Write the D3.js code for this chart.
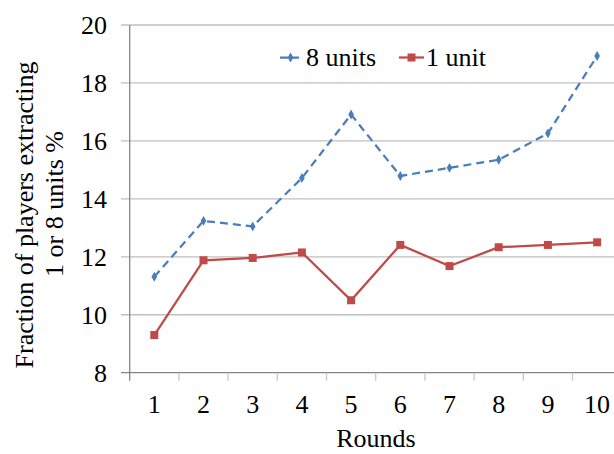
<!DOCTYPE html>
<html>
<head>
<meta charset="utf-8">
<script src="https://cdnjs.cloudflare.com/ajax/libs/d3/7.8.5/d3.min.js"></script>
</head>
<body style="margin:0">
<svg class="svg" width="614" height="454"></svg>
<script>
let rounds = [1, 2, 3, 4, 5, 6, 7, 8, 9, 10];
let eightUnits = [11.31, 13.24, 13.05, 14.72, 16.91, 14.79, 15.07, 15.35, 16.26, 18.93];
let oneUnit = [9.30, 11.88, 11.96, 12.15, 10.50, 12.41, 11.68, 12.33, 12.41, 12.50];
let yTicks = [8, 10, 12, 14, 16, 18, 20];
let seriesNames = ['8 units', '1 unit'];

let blue = '#4a7ebb';
let red = '#be4b48';
let fontSize = 26;
let fontName = 'Times New Roman';

let svg = d3.select('.svg')
    .style('font-family', '"' + fontName + '", serif');

let x = d3.scaleBand()
    .domain(rounds)
    .range([129.7, 621.7]);

let y = d3.scaleLinear()
    .domain([8, 20])
    .range([372.7, 25]);

function addText(sel) {
    return sel.append('text')
        .style('font-family', function () { return '"' + fontName + '"'; })
        .style('font-size', fontSize + 'px');
}

// gridlines
svg.append('g')
    .selectAll('line')
    .data(yTicks)
    .enter()
    .append('line')
    .attr('x1', 121)
    .attr('x2', 614)
    .attr('y1', function (d) { return y(d); })
    .attr('y2', function (d) { return y(d); })
    .style('stroke', function (d) { return d === 8 ? '#868686' : '#c0c0c0'; })
    .style('stroke-width', 1.3);

// y axis line
svg.append('line')
    .attr('x1', 129.7).attr('x2', 129.7)
    .attr('y1', y(20)).attr('y2', y(8))
    .style('stroke', '#868686')
    .style('stroke-width', 1.3);

// x ticks
let xTickPos = rounds.map(function (d) { return x(d); });
xTickPos.push(x(10) + x.bandwidth());
svg.append('g')
    .selectAll('line')
    .data(xTickPos)
    .enter()
    .append('line')
    .attr('x1', function (d) { return d; })
    .attr('x2', function (d) { return d; })
    .attr('y1', y(8))
    .attr('y2', y(8) + 8)
    .style('stroke', function (d, i) { return i === 0 ? '#868686' : '#c8c8c8'; })
    .style('stroke-width', 1.3);

// y tick labels
yTicks.forEach(function (d) {
    addText(svg)
        .attr('x', 107)
        .attr('y', y(d) + 9)
        .attr('text-anchor', 'end')
        .text(d);
});

// x tick labels
rounds.forEach(function (d) {
    addText(svg)
        .attr('x', x(d) + x.bandwidth() / 2)
        .attr('y', 413)
        .attr('text-anchor', 'middle')
        .text(d);
});

// axis titles
addText(svg)
    .attr('x', 376)
    .attr('y', 447)
    .attr('text-anchor', 'middle')
    .text('Rounds');

addText(svg)
    .attr('transform', 'translate(33,215) rotate(-90)')
    .attr('text-anchor', 'middle')
    .text('Fraction of players extracting');
addText(svg)
    .attr('transform', 'translate(63,204) rotate(-90)')
    .attr('text-anchor', 'middle')
    .text('1 or 8 units %');

let cx = function (d, i) { return x(rounds[i]) + x.bandwidth() / 2; };

let line = d3.line()
    .x(cx)
    .y(function (d) { return y(d); });

// 8 units series
svg.append('path')
    .datum(eightUnits)
    .attr('d', line)
    .attr('fill', 'none')
    .style('stroke', blue)
    .style('stroke-width', 2.25)
    .style('stroke-dasharray', '8 5');

svg.append('g')
    .selectAll('path')
    .data(eightUnits)
    .enter()
    .append('path')
    .attr('d', d3.symbol().type(d3.symbolDiamond).size(28))
    .attr('transform', function (d, i) { return 'translate(' + cx(d, i) + ',' + y(d) + ')'; })
    .attr('fill', blue);

// 1 unit series
svg.append('path')
    .datum(oneUnit)
    .attr('d', line)
    .attr('fill', 'none')
    .style('stroke', red)
    .style('stroke-width', 2.25);

svg.append('g')
    .selectAll('rect')
    .data(oneUnit)
    .enter()
    .append('rect')
    .attr('x', function (d, i) { return cx(d, i) - 4; })
    .attr('y', function (d) { return y(d) - 4; })
    .attr('width', 8)
    .attr('height', 8)
    .attr('fill', red);

// legend
svg.append('line')
    .attr('x1', 280).attr('x2', 301)
    .attr('y1', 57.5).attr('y2', 57.5)
    .style('stroke', blue)
    .style('stroke-width', 2.25)
    .style('stroke-dasharray', '8 3');
svg.append('path')
    .attr('d', d3.symbol().type(d3.symbolDiamond).size(28))
    .attr('transform', 'translate(290.5,57.5)')
    .attr('fill', blue);
addText(svg)
    .attr('x', 306)
    .attr('y', 66)
    .text(seriesNames[0]);

svg.append('line')
    .attr('x1', 399).attr('x2', 424)
    .attr('y1', 57.5).attr('y2', 57.5)
    .style('stroke', red)
    .style('stroke-width', 2.25);
svg.append('rect')
    .attr('x', 407.5).attr('y', 53.5)
    .attr('width', 8).attr('height', 8)
    .attr('fill', red);
addText(svg)
    .attr('x', 426)
    .attr('y', 66)
    .text(seriesNames[1]);
</script>
</body>
</html>
